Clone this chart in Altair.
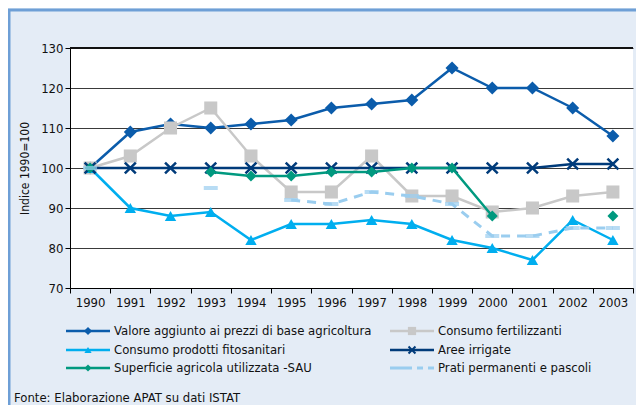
import altair as alt
import pandas as pd

years = [str(y) for y in range(1990, 2004)]
valore = [100, 109, 111, 110, 111, 112, 115, 116, 117, 125, 120, 120, 115, 108]
fertilizzanti = [100, 103, 110, 115, 103, 94, 94, 103, 93, 93, 89, 90, 93, 94]
fitosanitari = [100, 90, 88, 89, 82, 86, 86, 87, 86, 82, 80, 77, 87, 82]
irrigate = [100, 100, 100, 100, 100, 100, 100, 100, 100, 100, 100, 100, 101, 101]
sau = [100, None, None, 99, 98, 98, 99, 99, 100, 100, 88, None, None, 88]
prati = [100, None, None, 95, None, 92, 91, 94, 93, 91, 83, 83, 85, 85]

names = [
    "Valore aggiunto ai prezzi di base agricoltura",
    "Consumo fertilizzanti",
    "Consumo prodotti fitosanitari",
    "Aree irrigate",
    "Superficie agricola utilizzata -SAU",
    "Prati permanenti e pascoli",
]
series = [valore, fertilizzanti, fitosanitari, irrigate, sau, prati]
colors = ["#0B5CAB", "#C8C8C8", "#00AEEF", "#003B7A", "#00997F", "#9ACDEF"]
XPATH = "M-1,-1L1,1M-1,1L1,-1"
shapes = ["diamond", "square", "triangle-up", XPATH, "diamond", None]
sizes = [170, 170, 130, 120, 120, 0]

FONT = "Liberation Sans Narrow, DejaVu Sans Condensed, sans-serif"
W, H = 563, 240

x_enc = alt.X(
    "year:O",
    scale=alt.Scale(type="band", domain=years, paddingInner=0, paddingOuter=0),
    bandPosition=0.5,
    axis=alt.Axis(title=None, labelAngle=0, tickBand="extent", tickSize=5,
                  tickColor="#000", domainColor="#000", labelFontSize=13,
                  labelFont=FONT, labelColor="#111", labelPadding=3, grid=False),
)
y_enc = alt.Y(
    "v:Q",
    scale=alt.Scale(domain=[70, 130], nice=False, zero=False),
    axis=alt.Axis(values=[70, 80, 90, 100, 110, 120, 130], title="Indice 1990=100",
                  titleFont=FONT, titleFontSize=12, titleFontWeight="normal",
                  titleColor="#111", titlePadding=9, labelFont=FONT, labelFontSize=13,
                  labelColor="#111", tickSize=5, tickColor="#000", domainColor="#000",
                  grid=True, gridColor="#3a3a3a", gridWidth=1),
)

layers = []
for i, (name, vals) in enumerate(zip(names, series)):
    df = pd.DataFrame({"year": years, "v": vals, "s": name})
    base = alt.Chart(df)
    if i == 5:
        line = base.mark_line(color=colors[i], strokeWidth=3, strokeDash=[9, 7],
                              invalid="break-paths-show-domains").encode(x=x_enc, y=y_enc)
        pts = base.mark_tick(color=colors[i], orient="horizontal", size=14, thickness=4).encode(
            x=x_enc, y=y_enc).transform_filter("isValid(datum.v)")
    else:
        line = base.mark_line(color=colors[i], strokeWidth=2.5,
                              invalid="break-paths-show-domains").encode(x=x_enc, y=y_enc)
        if i == 3:
            pts = base.mark_point(shape=shapes[i], color=colors[i], filled=False,
                                  strokeWidth=2.5, size=sizes[i], opacity=1).encode(x=x_enc, y=y_enc)
        else:
            pts = base.mark_point(shape=shapes[i], color=colors[i], filled=True,
                                  size=sizes[i], opacity=1).encode(x=x_enc, y=y_enc)
        pts = pts.transform_filter("isValid(datum.v)")
    layers += [line, pts]

one = pd.DataFrame({"a": [0]})
# top border line of plot
layers.append(alt.Chart(one).mark_rule(color="#111", strokeWidth=2).encode(
    x=alt.value(0), x2=alt.value(W), y=alt.value(0)))

# legend
col_x = [-4, 320]
row_y = [283, 302, 320]
for i, name in enumerate(names):
    c, r = i % 2, i // 2
    x0 = col_x[c]
    y0 = row_y[r]
    src = alt.Chart(one)
    if i == 5:
        layers.append(src.mark_rule(color=colors[i], strokeWidth=3).encode(
            x=alt.value(x0), x2=alt.value(x0 + 22), y=alt.value(y0)))
        layers.append(src.mark_rule(color=colors[i], strokeWidth=3, strokeDash=[6, 5]).encode(
            x=alt.value(x0 + 27), x2=alt.value(x0 + 45), y=alt.value(y0)))
    else:
        layers.append(src.mark_rule(color=colors[i], strokeWidth=2.5).encode(
            x=alt.value(x0), x2=alt.value(x0 + 44), y=alt.value(y0)))
        layers.append(src.mark_point(shape=shapes[i], color=colors[i], filled=(i != 3),
                                     strokeWidth=2, size=sizes[i] * 0.4, opacity=1).encode(
            x=alt.value(x0 + 22), y=alt.value(y0)))
    layers.append(src.mark_text(text=name, align="left", baseline="middle", font=FONT,
                                fontSize=13, color="#111").encode(
        x=alt.value(x0 + 48), y=alt.value(y0)))

layers.append(alt.Chart(one).mark_text(text="Fonte: Elaborazione APAT su dati ISTAT", align="left",
                                       baseline="middle", font=FONT, fontSize=13, color="#111").encode(
    x=alt.value(-56), y=alt.value(350)))

# panel borders
layers.append(alt.Chart(one).mark_rule(color="#6E9FD6", strokeWidth=3).encode(
    x=alt.value(-62), x2=alt.value(W + 3), y=alt.value(-38)))
layers.append(alt.Chart(one).mark_rule(color="#6E9FD6", strokeWidth=3).encode(
    x=alt.value(-61), y=alt.value(-39), y2=alt.value(360)))

chart = alt.layer(*layers).properties(
    width=W, height=H, background="#E4ECF6",
    autosize=alt.AutoSizeParams(type="none"),
    padding={"left": 62, "top": 40, "right": 3, "bottom": 117},
).configure_view(fill="white", stroke=None)

chart.save("out.html", embed_options={"renderer": "svg", "actions": False})
